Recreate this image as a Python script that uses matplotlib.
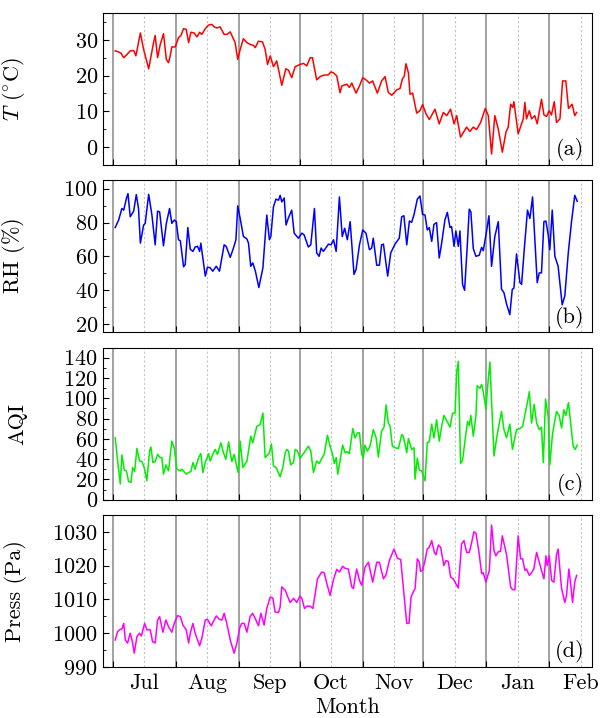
import matplotlib.pyplot as plt
from matplotlib.ticker import MultipleLocator

plt.rcParams['font.family'] = 'serif'
plt.rcParams['font.serif'] = ['cmr10']
plt.rcParams['mathtext.fontset'] = 'cm'
plt.rcParams['axes.formatter.use_mathtext'] = True

# days counted from 1 July
month_names = ['Jul', 'Aug', 'Sep', 'Oct', 'Nov', 'Dec', 'Jan', 'Feb']
month_start = [0, 31, 62, 92, 123, 153, 184, 215]

temp_day = [1.1, 2.8, 3.9, 5.3, 6.9, 8.5, 10.2, 11.3, 13.5, 15.1, 17.6, 20.0, 20.8, 22.0, 23.3, 24.9,
            26.3, 27.4, 28.2, 29.0, 30.7, 32.3, 33.5, 34.8, 36.1, 37.3, 38.4, 40.0, 41.4, 42.7, 43.8,
            45.5, 47.1, 48.7, 49.9, 51.2, 52.8, 54.8, 56.1, 57.8, 59.1, 60.2, 61.5, 62.7, 64.3, 66.0,
            67.6, 69.3, 70.1, 71.7, 73.7, 75.0, 76.2, 77.5, 79.1, 80.7, 83.2, 85.2, 86.5, 88.1, 89.8,
            92.2, 93.9, 95.5, 97.2, 98.3, 100.4, 102.1, 103.7, 106.2, 107.3, 108.6, 110.3, 111.9,
            112.8, 115.2, 116.5, 117.7, 119.8, 121.5, 123.1, 124.7, 126.4, 128.0, 130.3, 132.4,
            134.1, 135.7, 137.4, 139.8, 141.5, 142.6, 143.6, 144.4, 145.6, 146.4, 147.7, 149.7,
            151.3, 152.6, 154.3, 155.9, 158.7, 160.8, 162.8, 164.5, 166.4, 168.1, 169.4, 171.3,
            174.3, 175.9, 177.6, 179.2, 181.2, 183.5, 185.0, 186.6, 188.2, 189.9, 191.9, 193.7,
            194.8, 196.0, 197.0, 197.6, 199.7, 201.4, 202.2, 203.0, 203.8, 205.2, 206.3, 207.9,
            209.1, 211.2, 212.4, 213.7, 215.0, 216.1, 217.5, 218.6, 220.3, 221.6, 223.2, 224.5,
            226.3, 227.6, 228.5]
temp = [26.9, 26.6, 26.3, 25.0, 25.9, 26.9, 27.0, 25.5, 31.9, 27.3, 21.9, 29.2, 31.2, 25.0, 28.7, 31.7,
        24.5, 23.6, 25.5, 28.0, 28.0, 30.6, 31.2, 33.1, 32.9, 29.2, 32.1, 31.9, 30.8, 32.1, 31.5,
        33.1, 34.1, 34.3, 33.6, 33.3, 33.6, 31.5, 31.5, 32.2, 30.6, 29.2, 24.5, 27.3, 30.3, 29.2,
        28.7, 28.4, 27.8, 29.6, 29.4, 27.3, 23.1, 25.5, 22.5, 24.1, 17.3, 21.9, 21.5, 19.4, 22.5,
        23.1, 23.4, 22.7, 25.0, 25.0, 18.8, 19.7, 20.1, 20.2, 21.0, 20.8, 19.9, 15.2,
        17.1, 17.6, 16.7, 17.9, 15.1, 17.1, 19.4, 18.8, 17.9, 18.5, 15.1, 18.5,
        19.7, 15.3, 14.5, 16.0, 16.4, 19.0, 19.9, 23.3, 20.8, 14.8, 15.1, 9.5,
        10.2, 11.9, 9.3, 7.7, 10.6, 6.5, 9.7, 8.8, 10.6, 6.5, 8.8, 2.8,
        5.6, 4.4, 5.6, 4.9, 6.9, 10.8, 8.8, -1.9, 8.8, 5.1, -1.4, 4.2,
        5.6, 12.0, 11.1, 12.7, 3.7, 6.5, 7.9, 12.5, 7.9, 10.2, 7.9, 8.8,
        6.5, 13.4, 9.0, 8.6, 10.2, 9.0, 12.7, 6.9, 7.9, 18.5, 18.5, 10.8,
        12.0, 8.8, 9.7]

rh_day = [1.1, 2.8, 4.4, 5.3, 6.6, 7.4, 8.5, 10.2, 11.5, 12.6, 13.5, 15.1, 15.9, 17.6, 19.2, 20.8,
          22.0, 23.0, 24.9, 26.3, 27.9, 29.0, 30.2, 31.2, 32.3, 33.2, 34.8, 35.6, 36.9, 38.1, 39.4,
          40.5, 41.7, 42.7, 43.3, 45.5, 46.6, 47.9, 49.2, 50.9, 52.5, 54.8, 55.8, 57.8, 59.4, 60.6,
          61.5, 62.7, 64.3, 66.0, 66.8, 67.9, 68.9, 70.2, 71.9, 73.9, 75.8, 77.1, 77.8, 79.1, 80.3,
          81.6, 82.4, 83.2, 84.4, 85.3, 86.5, 88.1, 89.3, 91.4, 93.1, 94.2, 96.3, 97.5, 99.3, 100.4,
          101.6, 102.6, 103.7, 106.2, 107.5, 108.7, 110.0, 111.6, 113.0, 114.2, 115.5, 116.9,
          118.8, 119.8, 121.5, 123.1, 124.7, 126.4, 127.5, 128.3, 130.0, 131.3, 132.4, 133.3,
          135.4, 136.9, 139.0, 141.1, 142.3, 143.4, 144.8, 146.1, 147.2, 148.4, 150.0, 151.3,
          152.6, 153.8, 154.9, 155.9, 157.1, 158.2, 159.5, 160.8, 162.0, 163.6, 164.8, 166.1,
          166.9, 168.1, 169.0, 170.2, 171.0, 172.3, 173.3, 174.6, 175.6, 176.4, 177.6, 178.9,
          180.5, 181.7, 182.5, 184.1, 185.3, 186.6, 188.2, 189.9, 191.5, 192.7, 194.0, 195.6,
          196.8, 197.6, 198.9, 200.6, 201.4, 202.7, 204.3, 205.5, 206.8, 207.4, 209.1, 210.1,
          211.2, 212.4, 213.4, 214.5, 215.3, 216.5, 217.8, 219.4, 221.4, 222.7, 224.4, 226.0,
          227.6, 228.8]
rh = [77.0, 81.5, 88.3, 87.3, 94.1, 97.1, 83.4, 86.7, 96.5, 88.3, 67.8, 78.5, 79.5, 96.7, 84.4, 66.8,
      86.7, 86.3, 66.2, 79.5, 88.3, 79.5, 81.5, 80.5, 69.8, 69.2, 53.8, 55.1, 77.0, 64.2, 62.9,
      65.5, 65.9, 62.9, 67.8, 48.3, 53.6, 53.2, 51.2, 54.1, 51.2, 66.8, 65.9, 59.4, 64.9, 69.8,
      89.9, 82.4, 71.7, 70.3, 67.8, 54.1, 56.1, 51.2, 41.5, 53.2, 84.4, 69.8, 71.7, 89.3, 93.8,
      93.2, 96.1, 92.2, 94.5, 78.5, 82.8, 87.3, 73.7, 70.7, 73.7, 72.7, 65.5, 66.8, 88.3, 62.0,
      60.0, 64.9, 62.9, 67.2, 66.8, 69.8, 62.9, 95.1, 71.7, 76.6, 69.8, 80.5,
      49.3, 52.2, 66.8, 75.6, 73.7, 63.9, 64.9, 70.7, 54.7, 54.7, 66.8, 67.2,
      48.3, 62.0, 67.2, 70.7, 83.4, 84.0, 66.8, 80.9, 80.1, 84.8, 93.8, 95.7,
      84.8, 84.4, 75.6, 77.0, 68.8, 78.9, 79.9, 59.0, 67.8, 81.5, 86.0, 77.0,
      77.6, 65.9, 75.0, 65.9, 75.0, 43.4, 39.9, 65.9, 87.9, 86.3, 64.5, 60.0,
      60.6, 65.3, 63.3, 74.6, 84.0, 54.1, 71.7, 80.5, 40.5, 38.5, 31.7, 25.5,
      40.5, 41.1, 61.4, 44.4, 43.4, 63.9, 87.3, 82.4, 95.1, 81.5, 44.4, 50.2,
      50.2, 80.5, 80.9, 72.7, 63.9, 87.3, 60.0, 54.1, 31.3, 36.6, 62.0, 80.5,
      96.1, 92.6]

aqi_day = [1.1, 2.3, 3.6, 4.4, 5.6, 6.6, 7.7, 8.9, 9.7, 10.7, 11.8, 13.1, 14.3, 15.4, 16.7, 18.1,
           18.7, 19.7, 20.8, 22.0, 23.3, 24.1, 24.9, 26.1, 27.4, 29.0, 30.2, 31.5, 33.2, 34.0, 36.1,
           37.3, 38.4, 39.4, 40.5, 42.2, 43.3, 44.3, 45.5, 47.1, 47.9, 49.2, 50.4, 51.5, 53.2, 54.2,
           55.6, 57.0, 57.8, 58.6, 59.7, 61.1, 61.7, 62.7, 64.0, 65.2, 66.0, 67.9, 68.9, 70.9, 72.5,
           73.9, 75.0, 76.2, 77.1, 78.1, 79.1, 80.4, 82.4, 83.7, 84.9, 85.7, 86.5, 87.6, 89.0, 89.8,
           90.9, 92.2, 94.2, 96.3, 97.5, 98.8, 100.4, 101.6, 102.9, 104.1, 105.7, 107.0, 108.3,
           109.1, 110.0, 110.8, 113.2, 114.4, 115.5, 116.5, 118.2, 119.3, 120.5, 121.5, 122.6,
           123.4, 124.2, 125.4, 126.7, 128.3, 129.7, 130.8, 132.4, 133.6, 134.6, 135.7, 136.6,
           137.7, 139.0, 140.7, 142.3, 143.1, 144.8, 145.6, 147.2, 148.4, 148.9, 150.0, 151.0,
           152.1, 153.8, 154.9, 155.9, 157.1, 158.2, 159.5, 160.8, 162.0, 163.1, 164.5, 166.1,
           167.4, 168.6, 169.4, 170.2, 171.3, 172.3, 174.0, 174.8, 175.6, 176.4, 177.6, 178.9,
           179.5, 180.9, 181.7, 182.5, 183.8, 185.0, 185.8, 186.6, 187.8, 189.1, 190.4, 191.5,
           192.7, 194.0, 195.6, 196.9, 198.1, 198.9, 200.6, 201.9, 203.0, 204.2, 205.2, 206.3,
           207.6, 208.8, 210.1, 211.2, 212.1, 213.2, 214.5, 215.3, 216.6, 217.8, 218.6, 219.9,
           221.1, 222.2, 223.2, 224.5, 225.5, 226.8, 227.8, 228.8]
aqi = [61.0, 38.2, 15.5, 44.1, 29.1, 28.5, 18.0, 17.1, 31.7, 27.8, 50.6, 38.2, 37.6, 31.7, 18.7, 48.6,
       51.9, 36.6, 37.6, 44.7, 41.5, 41.5, 25.2, 34.3, 28.5, 57.7, 51.2, 30.1, 28.5, 30.1, 25.2,
       26.8, 27.8, 36.6, 30.1, 41.5, 45.4, 26.8, 36.6, 45.4, 38.2, 44.7, 49.6, 44.7, 56.1, 48.0,
       39.8, 57.1, 46.3, 37.6, 44.7, 31.7, 26.8, 57.7, 31.7, 35.6, 37.6, 62.6, 56.1, 72.4, 74.0,
       85.4, 41.5, 44.1, 46.3, 55.1, 33.3, 31.7, 22.6, 31.7, 46.3, 49.6, 48.0, 34.3, 36.6, 49.6,
       48.0, 40.8, 46.3, 52.8, 48.0, 26.8, 38.2, 35.6, 40.8, 44.7, 63.6, 52.8, 44.1,
       35.6, 41.5, 25.2, 53.8, 46.3, 47.3, 45.4, 70.1, 61.0, 65.9, 65.9, 44.7,
       41.5, 53.8, 48.0, 52.8, 69.1, 61.0, 42.1, 67.6, 71.5, 93.5, 75.8, 72.4,
       52.8, 51.2, 50.6, 64.2, 62.6, 46.3, 60.3, 49.6, 51.2, 20.3, 40.8, 29.1,
       28.5, 18.7, 56.1, 57.1, 74.6, 61.0, 78.8, 57.7, 72.4, 83.1, 77.9, 71.5,
       85.4, 85.4, 126.0, 136.4, 35.6, 38.9, 65.9, 77.2, 73.3, 83.1, 62.6, 83.1,
       112.4, 109.8, 113.7, 106.5, 89.6, 119.5, 135.8, 96.7, 43.1, 61.0, 75.6, 87.0,
       69.1, 61.0, 74.6, 49.6, 61.0, 69.1, 70.1, 72.4, 83.7, 95.1, 106.5, 75.6,
       94.1, 75.6, 69.1, 71.5, 36.6, 99.3, 82.1, 34.3, 64.2, 77.9, 87.0, 83.1,
       70.7, 88.6, 83.1, 95.7, 77.2, 52.8, 49.6, 53.8]

press_day = [1.1, 2.3, 3.3, 4.4, 5.3, 6.1, 7.2, 8.5, 9.4, 10.5, 11.8, 13.0, 14.0, 15.6, 16.7, 18.4,
             19.5, 20.8, 22.0, 23.0, 24.6, 26.1, 27.4, 29.0, 30.2, 31.8, 33.2, 34.5, 36.1, 37.3, 38.1,
             39.4, 40.5, 42.7, 43.8, 45.5, 46.6, 48.4, 50.9, 52.5, 53.7, 54.8, 56.1, 57.8, 59.7, 61.1,
             62.4, 63.5, 64.7, 66.0, 67.6, 68.8, 70.1, 71.7, 72.9, 74.5, 75.8, 77.5, 78.8, 79.9, 81.6,
             82.4, 83.2, 84.9, 86.0, 87.3, 89.0, 90.6, 92.2, 93.1, 94.4, 95.5, 97.2, 98.5, 99.6, 100.8,
             102.9, 104.1, 105.4, 107.0, 108.7, 110.3, 111.6, 113.2, 114.4, 116.0, 117.7, 118.5,
             120.1, 121.5, 122.6, 124.2, 125.9, 128.0, 130.0, 131.3, 133.3, 134.6, 136.2, 138.5,
             140.2, 141.8, 143.4, 144.8, 145.9, 146.9, 148.0, 148.9, 150.0, 151.0, 151.6, 152.6,
             153.8, 154.9, 155.9, 157.1, 158.4, 159.2, 160.4, 161.5, 163.1, 164.1, 165.3, 166.4,
             167.7, 169.4, 170.2, 171.8, 173.0, 174.3, 175.6, 176.8, 177.9, 178.9, 180.5, 181.7,
             182.5, 183.8, 185.5, 186.6, 187.8, 188.7, 189.9, 191.0, 191.9, 193.2, 194.0, 196.0,
             196.9, 198.1, 199.7, 200.9, 201.9, 203.0, 203.8, 205.2, 206.3, 207.4, 208.8, 210.1,
             211.2, 212.4, 213.4, 214.0, 215.0, 216.2, 217.3, 218.6, 219.4, 221.1, 222.7, 223.5,
             224.7, 225.5, 226.5, 227.6, 228.5]
press = [998.0, 1000.5, 1001.0, 1001.3, 1002.9, 998.0, 997.1, 1000.0, 998.0, 994.1, 999.0, 1000.0,
         999.2, 1002.9, 1001.0, 1001.0, 997.5, 997.1, 1003.9, 1004.9, 1000.3, 1003.9, 1001.9, 1000.3,
         1002.9, 1005.2, 1004.9, 1002.4, 1001.0, 997.1, 1000.0, 1002.9, 1000.0, 996.3, 998.5, 1003.9,
         1004.1, 1002.2, 1005.1, 1004.1, 1003.9, 1005.9, 1002.9, 998.0, 994.1, 997.1, 1001.5, 1002.9,
         1002.9, 1000.3, 1004.9, 1005.9, 1004.4, 1002.2, 1005.9, 1002.4, 1007.3, 1010.7, 1010.4,
         1006.3, 1006.1, 1007.8, 1013.7, 1012.7, 1011.0, 1009.1, 1010.3, 1009.1, 1011.0, 1010.3,
         1007.3, 1008.0, 1008.0, 1007.3, 1011.4, 1016.1, 1018.1, 1017.9, 1014.7, 1011.2, 1015.9,
         1018.9, 1018.1, 1019.8, 1019.2, 1019.0, 1013.7, 1013.2, 1019.0, 1015.6, 1014.2, 1019.5,
         1021.0, 1015.1, 1021.0, 1021.0, 1016.1, 1017.3, 1021.5, 1024.9, 1022.2, 1021.8, 1011.7,
         1002.9, 1002.9, 1010.7, 1012.2, 1013.2, 1022.0, 1021.0, 1018.3, 1018.6, 1021.5, 1024.9,
         1025.4, 1027.4, 1023.9, 1023.2, 1026.1, 1025.4, 1020.0, 1021.5, 1021.2, 1016.6, 1016.1,
         1014.2, 1013.4, 1026.4, 1027.4, 1023.9, 1023.9, 1026.9, 1030.0, 1029.6, 1023.5, 1017.6,
         1017.9, 1015.1, 1018.6, 1032.0, 1024.4, 1022.9, 1024.1, 1024.2, 1028.8, 1025.3, 1023.2,
         1013.7, 1012.9, 1012.9, 1028.8, 1022.0, 1022.0, 1018.6, 1019.0, 1017.1, 1017.9, 1019.0,
         1023.9, 1021.0, 1018.6, 1016.1, 1022.9, 1020.0, 1022.9, 1015.6, 1015.1, 1023.2, 1024.9,
         1013.2, 1009.1, 1011.0, 1019.0, 1015.0, 1009.1, 1015.1, 1017.1]

month_mid = [m + 15.5 for m in month_start]

panels = [
    (temp_day, temp, '#ff0000', r'$T$ ($^{\circ}$C)', (-5, 37.5), 10, 5, '(a)'),
    (rh_day, rh, '#0000ff', r'RH ($\%$)', (15, 105), 20, 10, '(b)'),
    (aqi_day, aqi, '#00ee00', 'AQI', (0, 150), 20, 10, '(c)'),
    (press_day, press, '#ff00ff', 'Press (Pa)', (990, 1035), 10, 5, '(d)'),
]

fig, axes = plt.subplots(4, 1, figsize=(6.12, 7.18), dpi=100, sharex=True)
fig.subplots_adjust(left=0.168, right=0.967, top=0.982, bottom=0.071, hspace=0.1)

for ax, (x, y, color, label, ylim, major, minor, tag) in zip(axes, panels):
    for m in month_start:
        ax.axvline(m, color='#888888', lw=1.1, zorder=1)
    for m in month_mid:
        ax.axvline(m, color='#c4c4c4', lw=0.8, ls=(0, (2, 2)), zorder=1)
    ax.plot(x, y, color=color, lw=1.1, zorder=3)
    ax.set_xlim(-5, 236)
    ax.set_ylim(*ylim)
    ax.yaxis.set_major_locator(MultipleLocator(major))
    ax.yaxis.set_minor_locator(MultipleLocator(minor))
    ax.set_xticks(month_start)
    ax.set_xticks(month_mid, labels=month_names, minor=True)
    ax.tick_params(axis='x', which='major', direction='in', length=4, labelbottom=False)
    ax.tick_params(axis='x', which='minor', length=0, labelbottom=False)
    ax.tick_params(axis='y', which='major', direction='in', length=4, labelsize=16)
    ax.tick_params(axis='y', which='minor', direction='in', length=2)
    ax.set_ylabel(label, fontsize=16)
    ax.yaxis.set_label_coords(-0.155, 0.5)
    ax.text(0.985, 0.025, tag, transform=ax.transAxes, ha='right', va='bottom', fontsize=16)

axes[-1].tick_params(axis='x', which='minor', labelbottom=True, labelsize=16, pad=5)
axes[-1].set_xlabel('Month', fontsize=16, labelpad=3)

plt.savefig('out.png', dpi=100)
